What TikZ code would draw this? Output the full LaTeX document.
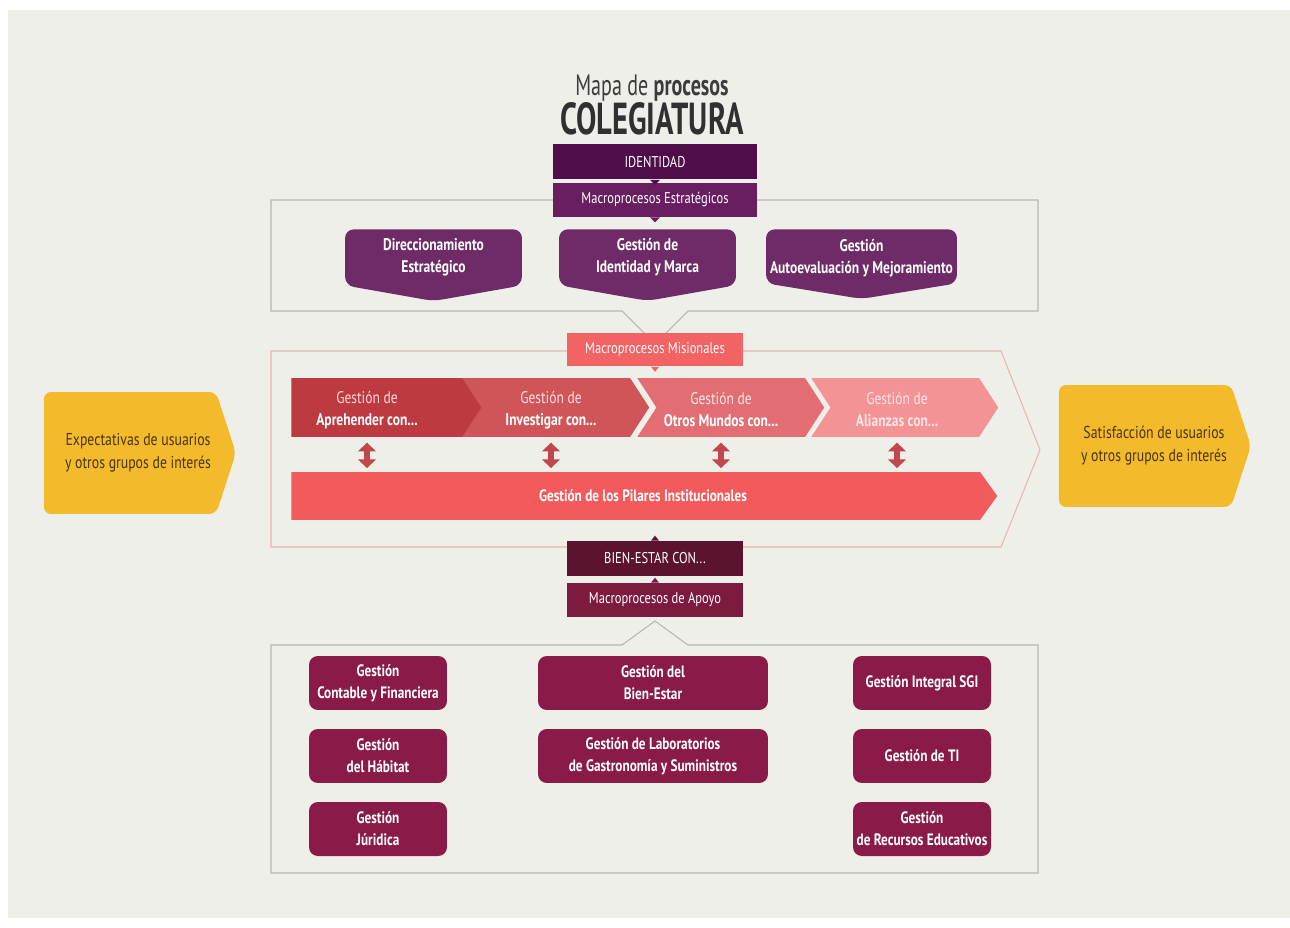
\documentclass[tikz,border=0pt]{standalone}
\usepackage{fontspec}
\setmainfont{PT Sans}[FakeStretch=0.8]
\newfontfamily\titlefont{PT Sans}[FakeStretch=0.68]
\usetikzlibrary{positioning,shapes.symbols,arrows.meta}
\definecolor{BgGray}{HTML}{EFEFEA}
\definecolor{IdPurple}{HTML}{4F0E4A}
\definecolor{EstPurple}{HTML}{6A1E62}
\definecolor{EstBoxPurple}{HTML}{6E2B68}
\definecolor{MisRed}{HTML}{F26363}
\definecolor{MisOne}{HTML}{BD3A41}
\definecolor{MisTwo}{HTML}{CF5559}
\definecolor{MisThree}{HTML}{E26E73}
\definecolor{MisFour}{HTML}{F49396}
\definecolor{PilarRed}{HTML}{F25A5C}
\definecolor{ArrowRed}{HTML}{C0474C}
\definecolor{BienMaroon}{HTML}{5B1330}
\definecolor{ApoyoMaroon}{HTML}{7C1A40}
\definecolor{SupMaroon}{HTML}{8A1A47}
\definecolor{GoldYellow}{HTML}{F3BA2C}
\definecolor{GoldText}{HTML}{4A3505}
\definecolor{FrameGray}{HTML}{B5B5B5}
\definecolor{FramePink}{HTML}{EDB3B1}
\definecolor{TitleGray}{HTML}{3C3C3C}
\tikzset{
  hdbox/.style={rectangle,minimum width=4.08cm,minimum height=0.70cm,inner sep=0pt,
    text=white,font=\fontsize{8.9}{10}\selectfont},
  tagbox/.style={rectangle,minimum width=3.52cm,minimum height=0.68cm,inner sep=0pt,
    text=white,font=\fontsize{8.9}{10}\selectfont},
  estbox/.style={signal,signal to=south,signal pointer angle=160,fill=EstBoxPurple,
    rounded corners=5pt,minimum width=3.54cm,minimum height=1.30cm,inner sep=0pt,
    text=white,font=\fontsize{9.6}{12.5}\selectfont\bfseries,align=center,anchor=north},
  misbox/.style={signal,signal to=east,signal pointer angle=114,
    minimum width=3.74cm,minimum height=1.18cm,inner sep=0pt,anchor=west},
  mistext/.style={font=\fontsize{9.6}{12.5}\selectfont,align=center,inner sep=0pt},
  supbox/.style={rectangle,rounded corners=5pt,fill=SupMaroon,minimum height=1.08cm,
    inner sep=0pt,text=white,font=\fontsize{9.4}{12.5}\selectfont\bfseries,align=center},
  yelbox/.style={signal,signal to=east,signal pointer angle=144,fill=GoldYellow,
    rounded corners=4pt,minimum width=3.84cm,minimum height=2.44cm,inner sep=0pt},
  yeltext/.style={text=GoldText,font=\fontsize{9.8}{13}\selectfont,align=center,inner sep=0pt},
  dblarr/.style={draw=ArrowRed,line width=3.5pt,
    {Triangle[width=10pt,length=5pt]}-{Triangle[width=10pt,length=5pt]},
    shorten <=3pt,shorten >=2pt},
  frameS/.style={draw=FrameGray,line width=0.6pt},
  frameM/.style={draw=FramePink,line width=0.6pt},
}
\begin{document}
\begin{tikzpicture}[x=0.02cm,y=-0.02cm]
  \useasboundingbox (0,0) rectangle (1290,928);
  \fill[white] (0,0) rectangle (1290,928);
  \fill[BgGray] (8,10) rectangle (1290,918);
  % Frames
  \draw[frameS] (271,200) -- (1038,200) -- (1038,311) -- (688,311) -- (655,344)
    -- (622,311) -- (271,311) -- cycle;
  \draw[frameM] (271,351) -- (1001,351) -- (1040,450) -- (1001,547) -- (271,547) -- cycle;
  \draw[frameS] (271,645) -- (622,645) -- (655,621) -- (688,645) -- (1038,645)
    -- (1038,873) -- (271,873) -- cycle;
  % Title
  \node[text=TitleGray,font=\titlefont\fontsize{16.8}{18}\selectfont] (title1) at (652,88)
    {Mapa de \textbf{procesos}};
  \node[text=TitleGray!80!black,font=\titlefont\fontsize{25.5}{27}\selectfont\bfseries]
    (title2) at (652,119) {COLEGIATURA};
  % Strategic
  \node[hdbox,fill=IdPurple] (ident) at (655,162) {IDENTIDAD};
  \node[hdbox,fill=EstPurple,minimum height=0.68cm] (estr) at (655,200)
    {Macroprocesos Estratégicos};
  \fill[IdPurple] (ident.south) ++(-5,0) -- ++(10,0) -- ++(-5,5) -- cycle;
  \fill[EstPurple] (estr.south) ++(-5,0) -- ++(10,0) -- ++(-5,5) -- cycle;
  \node[estbox] (e1) at (433.5,229) {Direccionamiento\\Estratégico};
  \node[estbox] (e2) at (647.5,229) {Gestión de\\Identidad y Marca};
  \node[estbox,minimum width=3.82cm,minimum height=1.08cm,signal pointer angle=161.5]
    (e3) at (861.5,229) {};
  \node[text=white,font=\fontsize{9.6}{12.5}\selectfont\bfseries,align=center,inner sep=0pt]
    (e3t) at (861.5,258) {Gestión\\Autoevaluación y Mejoramiento};
  % Missional
  \node[tagbox,fill=MisRed] (mis) at (655,349.5) {Macroprocesos Misionales};
  \fill[MisRed] (mis.south) ++(-4,0) -- ++(8,0) -- ++(-4,5) -- cycle;
  \node[misbox,fill=MisOne,minimum width=3.92cm] (m1) at (291,407.5) {};
  \node[misbox,fill=MisTwo,signal from=west] (m2) at (481,407.5) {};
  \node[misbox,fill=MisThree,signal from=west] (m3) at (656,407.5) {};
  \node[misbox,fill=MisFour,signal from=west] (m4) at (830,407.5) {};
  \node[mistext,text=red!15!white] (m1t) at (367,410) {Gestión de\\\textbf{\color{white}Aprehender con...}};
  \node[mistext,text=red!12!white] (m2t) at (551,410) {Gestión de\\\textbf{\color{white}Investigar con...}};
  \node[mistext,text=red!10!white] (m3t) at (721,410) {Gestión de\\\textbf{\color{white}Otros Mundos con...}};
  \node[mistext,text=red!10!white] (m4t) at (897,410) {Gestión de\\\textbf{Alianzas con...}};
  \node[signal,signal to=east,signal pointer angle=109,fill=PilarRed,anchor=west,
    minimum width=14.12cm,minimum height=0.96cm,inner sep=0pt] (pil) at (291,496) {};
  \node[text=white,font=\fontsize{9.4}{11}\selectfont\bfseries,inner sep=0pt] (pilt)
    at (643,496) {Gestión de los Pilares Institucionales};
  \draw[dblarr] (m1t |- m1.south) -- (m1t |- pil.north);
  \draw[dblarr] (m2t |- m2.south) -- (m2t |- pil.north);
  \draw[dblarr] (m3t |- m3.south) -- (m3t |- pil.north);
  \draw[dblarr] (m4t |- m4.south) -- (m4t |- pil.north);
  % Users
  \node[yelbox] (expe) at (130,453) {};
  \node[yeltext] (expet) at (138,453) {Expectativas de usuarios\\y otros grupos de interés};
  \node[yelbox] (sati) at (1145,446) {};
  \node[yeltext] (satit) at (1154,446) {Satisfacción de usuarios\\y otros grupos de interés};
  % Support
  \node[tagbox,fill=BienMaroon,minimum height=0.70cm] (bien) at (655,558.5) {BIEN-ESTAR CON...};
  \node[tagbox,fill=ApoyoMaroon] (apo) at (655,600) {Macroprocesos de Apoyo};
  \fill[BienMaroon] (bien.north) ++(-4,0) -- ++(8,0) -- ++(-4,-5) -- cycle;
  \fill[ApoyoMaroon] (apo.north) ++(-4,0) -- ++(8,0) -- ++(-4,-5) -- cycle;
  \node[supbox,minimum width=2.76cm] (s1) at (378,683) {Gestión\\Contable y Financiera};
  \node[supbox,minimum width=2.76cm] (s2) at (378,756) {Gestión\\del Hábitat};
  \node[supbox,minimum width=2.76cm] (s3) at (378,829) {Gestión\\Júridica};
  \node[supbox,minimum width=4.60cm] (s4) at (653,683) {Gestión del\\Bien-Estar};
  \node[supbox,minimum width=4.60cm] (s5) at (653,756)
    {Gestión de Laboratorios\\de Gastronomía y Suministros};
  \node[supbox,minimum width=2.76cm] (s6) at (922,683) {Gestión Integral SGI};
  \node[supbox,minimum width=2.76cm] (s7) at (922,756) {Gestión de TI};
  \node[supbox,minimum width=2.76cm] (s8) at (922,829) {Gestión\\de Recursos Educativos};
\end{tikzpicture}
\end{document}
